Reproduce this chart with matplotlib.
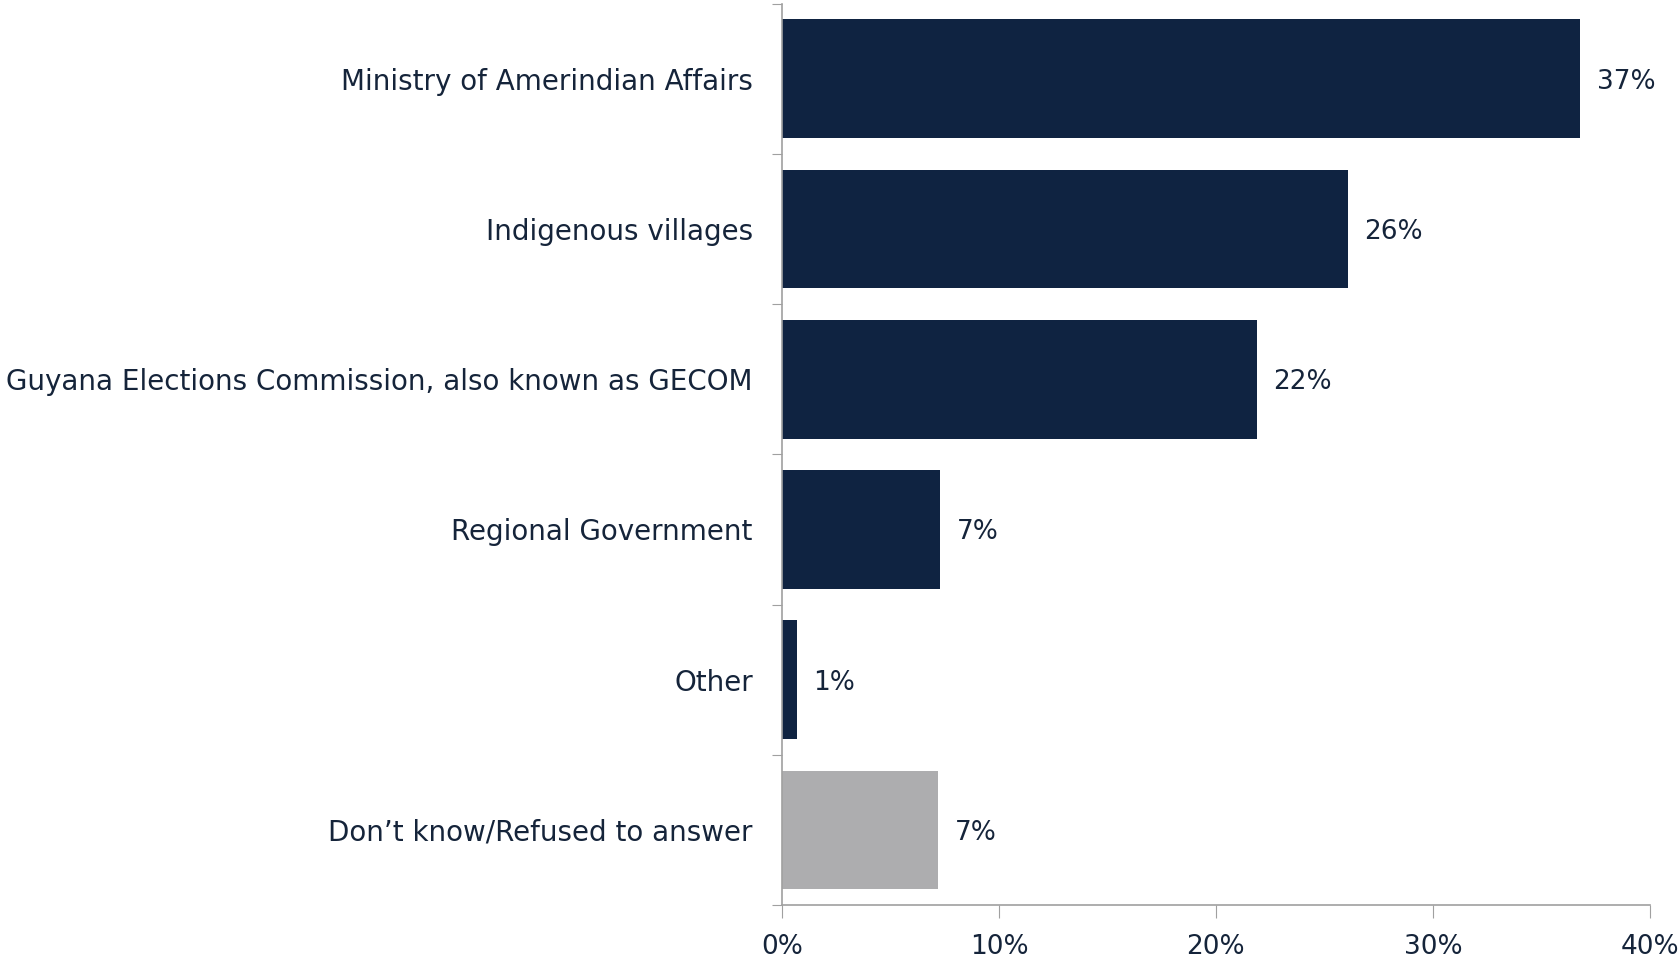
import numpy as np
import matplotlib.pyplot as plt
from matplotlib.ticker import FixedLocator

# data
categories = ['Ministry of Amerindian Affairs', 'Indigenous villages',
              'Guyana Elections Commission, also known as GECOM',
              'Regional Government', 'Other', 'Don\u2019t know/Refused to answer']
values = [36.8, 26.1, 21.9, 7.3, 0.7, 7.2]
labels = ['37%', '26%', '22%', '7%', '1%', '7%']
x_ticks = [0, 10, 20, 30, 40]

navy = '#0f2341'
grey = '#adadaf'
text_col = '#15243a'
colors = [navy] * 5 + [grey]

plt.rcParams['font.family'] = ['DejaVu Sans']

fig = plt.figure(figsize=(16.8, 9.64), dpi=100)
ax = fig.add_axes([0.4655, 0.0612, 0.5165, 0.935])

y = np.arange(len(categories))
ax.barh(y, values, height=0.79, color=colors)
for yi, v, lab in zip(y, values, labels):
    ax.text(v + 0.75, yi + 0.02, lab, va='center', ha='left', fontsize=19, color=text_col)

ax.set_xlim(0, 40)
ax.set_ylim(len(categories) - 0.5, -0.5)

# y ticks at category boundaries, labels at centres
ax.yaxis.set_major_locator(FixedLocator(np.arange(-0.5, len(categories), 1.0)))
ax.yaxis.set_minor_locator(FixedLocator(y))
ax.set_yticklabels([])
ax.set_yticklabels(categories, minor=True)
ax.tick_params(axis='y', which='major', length=7, color='#a0a0a0', direction='out')
ax.tick_params(axis='y', which='minor', length=0, pad=21, labelsize=20, labelcolor=text_col)

ax.set_xticks(x_ticks)
ax.set_xticklabels([f'{t}%' for t in x_ticks])
ax.tick_params(axis='x', length=9, color='#a0a0a0', direction='out', pad=12,
               labelsize=19, labelcolor=text_col)

for s in ['top', 'right']:
    ax.spines[s].set_visible(False)
for s in ['left', 'bottom']:
    ax.spines[s].set_color('#a0a0a0')
    ax.spines[s].set_linewidth(1.2)

fig.savefig('out.png', dpi=100)
